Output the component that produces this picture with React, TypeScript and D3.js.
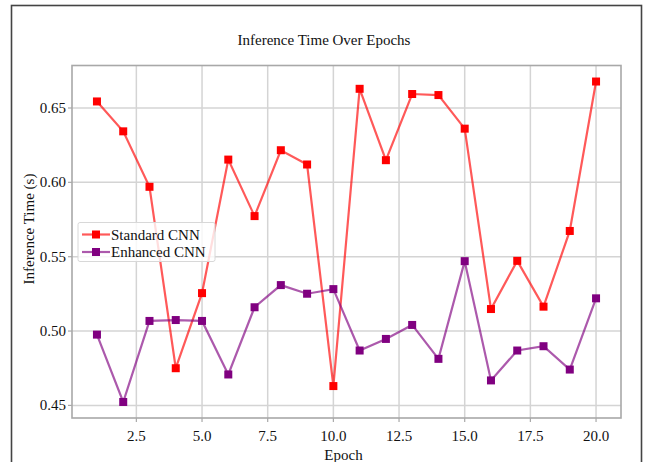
import React from "react";
import * as d3 from "d3";

const epochs = [1, 2, 3, 4, 5, 6, 7, 8, 9, 10, 11, 12, 13, 14, 15, 16, 17, 18, 19, 20];
const standardCNN = [0.6544, 0.6343, 0.597, 0.475, 0.5255, 0.6153, 0.5773, 0.6216, 0.612, 0.463, 0.6629, 0.6149, 0.6594, 0.6587, 0.6361, 0.5148, 0.5472, 0.5164, 0.5673, 0.6678];
const enhancedCNN = [0.4976, 0.4523, 0.5068, 0.5074, 0.5068, 0.4708, 0.516, 0.5309, 0.5251, 0.5282, 0.4869, 0.4947, 0.5041, 0.4813, 0.547, 0.4668, 0.4869, 0.4898, 0.4741, 0.522];
const xTicks = [2.5, 5.0, 7.5, 10.0, 12.5, 15.0, 17.5, 20.0];
const yTicks = [0.45, 0.5, 0.55, 0.6, 0.65];
const seriesNames = ["Standard CNN", "Enhanced CNN"];
const seriesColors = ["#ff0000", "#800080"];

const W = 647;
const H = 462;
const plot = { left: 72, right: 621, top: 65.5, bottom: 418 };
const FONT = "Liberation Serif";
const txt: React.CSSProperties = { fontFamily: FONT };

export default function App() {
  const allVals = [...standardCNN, ...enhancedCNN];
  const yMin = d3.min(allVals)!;
  const yMax = d3.max(allVals)!;
  const yPad = (yMax - yMin) * 0.05;
  const xPad = (20 - 1) * 0.05;
  const x = d3.scaleLinear().domain([1 - xPad, 20 + xPad]).range([plot.left, plot.right]);
  const y = d3.scaleLinear().domain([yMin - yPad, yMax + yPad]).range([plot.bottom, plot.top]);
  const line = d3
    .line<number>()
    .x((_, i) => x(epochs[i]))
    .y((d) => y(d));
  const series = [standardCNN, enhancedCNN];
  const ms = 8;

  return (
    <svg
      width={W}
      height={H}
      style={{ position: "absolute", left: 0, top: 0, background: "#fff" }}
    >
      <rect x={0} y={0} width={W} height={H} fill="#fff" />
      {/* outer frame */}
      <rect x={11.5} y={5.5} width={630} height={480} fill="none" stroke="#444" strokeWidth={1.6} />
      {/* title */}
      <text x={324} y={45} textAnchor="middle" fontSize={15} fill="#111" style={txt}>
        Inference Time Over Epochs
      </text>
      {/* grid */}
      {xTicks.map((t) => (
        <line key={"gx" + t} x1={x(t)} x2={x(t)} y1={plot.top} y2={plot.bottom} stroke="#d4d4d4" strokeWidth={1.5} />
      ))}
      {yTicks.map((t) => (
        <line key={"gy" + t} x1={plot.left} x2={plot.right} y1={y(t)} y2={y(t)} stroke="#d4d4d4" strokeWidth={1.5} />
      ))}
      {/* spines */}
      <rect
        x={plot.left}
        y={plot.top}
        width={plot.right - plot.left}
        height={plot.bottom - plot.top}
        fill="none"
        stroke="#a8a8a8"
        strokeWidth={1.6}
      />
      {/* ticks */}
      {xTicks.map((t) => (
        <g key={"tx" + t}>
          <line x1={x(t)} x2={x(t)} y1={plot.bottom} y2={plot.bottom + 4} stroke="#a8a8a8" strokeWidth={1.2} />
          <text x={x(t)} y={441} textAnchor="middle" fontSize={15} fill="#111" style={txt}>
            {t.toFixed(1)}
          </text>
        </g>
      ))}
      {yTicks.map((t) => (
        <g key={"ty" + t}>
          <line x1={plot.left - 4} x2={plot.left} y1={y(t)} y2={y(t)} stroke="#a8a8a8" strokeWidth={1.2} />
          <text x={66} y={y(t) + 5} textAnchor="end" fontSize={15} fill="#111" style={txt}>
            {t.toFixed(2)}
          </text>
        </g>
      ))}
      {/* axis labels */}
      <text x={(plot.left + plot.right) / 2 - 3} y={460} textAnchor="middle" fontSize={15} fill="#111" style={txt}>
        Epoch
      </text>
      <text
        transform={`translate(34, 229) rotate(-90)`}
        textAnchor="middle"
        fontSize={15}
        fill="#111"
        style={txt}
      >
        Inference Time (s)
      </text>
      {/* series */}
      {series.map((s, si) => (
        <g key={"s" + si}>
          <path d={line(s) || ""} fill="none" stroke={seriesColors[si]} strokeOpacity={0.65} strokeWidth={2.2} />
          {s.map((v, i) => (
            <rect
              key={i}
              x={x(epochs[i]) - ms / 2}
              y={y(v) - ms / 2}
              width={ms}
              height={ms}
              fill={seriesColors[si]}
            />
          ))}
        </g>
      ))}
      {/* legend */}
      <rect x={78} y={222.5} width={137} height={39} rx={2} fill="#fff" fillOpacity={0.8} stroke="#d8d8d8" strokeWidth={1} />
      {seriesNames.map((n, i) => {
        const ly = 234.5 + i * 17.5;
        return (
          <g key={"l" + i}>
            <line x1={82} x2={110} y1={ly} y2={ly} stroke={seriesColors[i]} strokeOpacity={0.65} strokeWidth={2.2} />
            <rect x={96 - ms / 2} y={ly - ms / 2} width={ms} height={ms} fill={seriesColors[i]} />
            <text x={111} y={ly + 5} fontSize={15} fill="#111" style={txt}>
              {n}
            </text>
          </g>
        );
      })}
    </svg>
  );
}
